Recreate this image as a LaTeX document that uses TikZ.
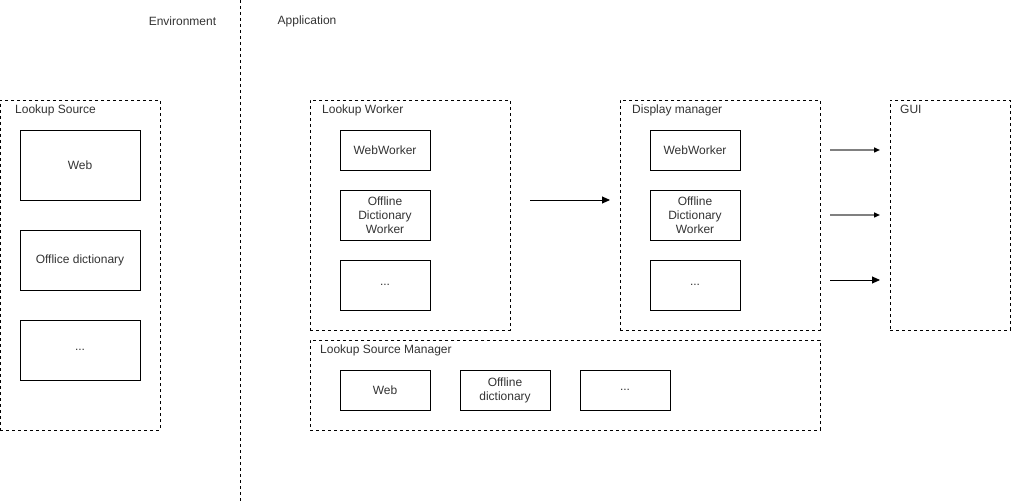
\documentclass[tikz,border=0pt]{standalone}
\usepackage{fontspec}
\setmainfont{Liberation Sans}
\usetikzlibrary{arrows.meta}
\definecolor{txt}{HTML}{333333}
\definecolor{arrgray}{HTML}{808080}
\begin{document}
\begin{tikzpicture}[x=1pt,y=-1pt,
  every node/.style={font=\fontsize{12}{14}\selectfont, text=txt, inner sep=0pt},
  group/.style={draw=black, line width=0.8pt, dash pattern=on 3pt off 3pt, rectangle},
  item/.style={draw=black, line width=0.9pt, rectangle, align=center},
  lbl/.style={anchor=north west},
  conn/.style={line width=0.9pt, -{Triangle[length=8pt,width=7pt]}},
  gconn/.style={line width=1.4pt, draw=arrgray, -{Triangle[length=6pt,width=5pt,color=black,fill=black]}},
]
\useasboundingbox (0,0) rectangle (1011,502);
% divider
\coordinate (divtop) at (240,0);
\coordinate (divbot) at (240,502);
\draw[line width=0.8pt, dash pattern=on 3pt off 3pt] (divtop) -- (divbot);
\node (env) at (182.5,21) {Environment};
\node (app) at (307,21) {Application};

% Lookup Source
\node[group, minimum width=160pt, minimum height=330pt] (ls) at (80,265) {};
\node[lbl] (lslbl) at (15,105) {Lookup Source};
\node[item, minimum width=120pt, minimum height=70pt] (lsweb) at (80,165) {Web};
\node[item, minimum width=120pt, minimum height=60pt] (lsoff) at (80,260) {Offlice dictionary};
\node[item, minimum width=120pt, minimum height=60pt] (lsdot) at (80,350) {...};

% Lookup Worker
\node[group, minimum width=200pt, minimum height=230pt] (lw) at (410,215) {};
\node[lbl] (lwlbl) at (322,105) {Lookup Worker};
\node[item, minimum width=90pt, minimum height=40pt] (lwweb) at (385,150) {WebWorker};
\node[item, minimum width=90pt, minimum height=50pt] (lwoff) at (385,215) {Offline\\Dictionary\\Worker};
\node[item, minimum width=90pt, minimum height=50pt] (lwdot) at (385,285) {...};

% Display manager
\node[group, minimum width=200pt, minimum height=230pt] (dm) at (720,215) {};
\node[lbl] (dmlbl) at (632,105) {Display manager};
\node[item, minimum width=90pt, minimum height=40pt] (dmweb) at (695,150) {WebWorker};
\node[item, minimum width=90pt, minimum height=50pt] (dmoff) at (695,215) {Offline\\Dictionary\\Worker};
\node[item, minimum width=90pt, minimum height=50pt] (dmdot) at (695,285) {...};

% GUI
\node[group, minimum width=120pt, minimum height=230pt] (gui) at (950,215) {};
\node[lbl] (guilbl) at (900,105) {GUI};

% Lookup Source Manager
\node[group, minimum width=510pt, minimum height=90pt] (lsm) at (565,385) {};
\node[lbl] (lsmlbl) at (320,345) {Lookup Source Manager};
\node[item, minimum width=90pt, minimum height=40pt] (lsmweb) at (385,390) {Web};
\node[item, minimum width=90pt, minimum height=40pt] (lsmoff) at (505,390) {Offline\\dictionary};
\node[item, minimum width=90pt, minimum height=40pt] (lsmdot) at (625,390) {...};

% arrows
\coordinate (a1s) at (530,200);
\coordinate (a1e) at (610,200);
\draw[conn] (a1s) -- (a1e);
\coordinate (g1s) at (830,150);
\coordinate (g1e) at (880,150);
\coordinate (g2s) at (830,215);
\coordinate (g2e) at (880,215);
\coordinate (g3s) at (830,280);
\coordinate (g3e) at (880,280);
\draw[gconn] (g1s) -- (g1e);
\draw[gconn] (g2s) -- (g2e);
\draw[conn] (g3s) -- (g3e);
\end{tikzpicture}
\end{document}
